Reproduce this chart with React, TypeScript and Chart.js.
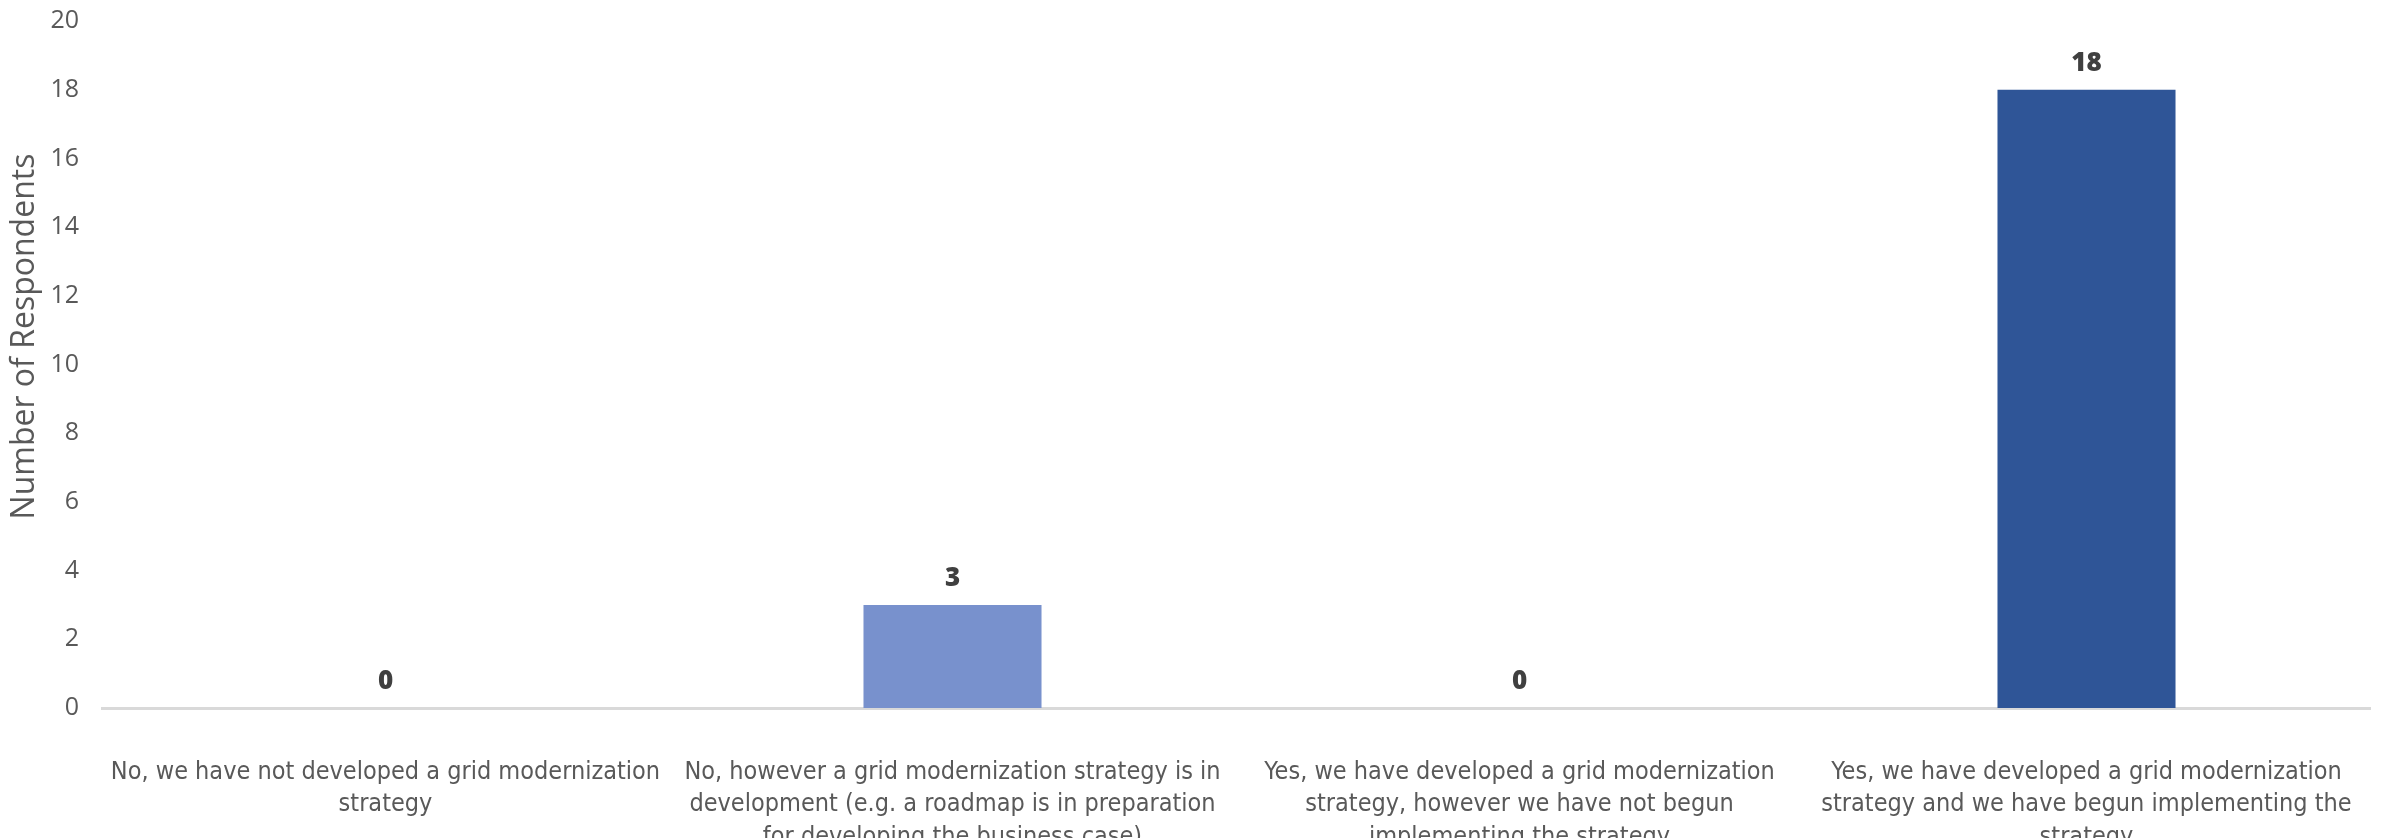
import React, { useEffect, useRef } from "react";
import { Chart, registerables } from "chart.js";

Chart.register(...registerables);

const categories: string[][] = [
  ["No, we have not developed a grid modernization", "strategy"],
  ["No, however a grid modernization strategy is in", "development (e.g. a roadmap is in preparation", "for developing the business case)"],
  ["Yes, we have developed a grid modernization", "strategy, however we have not begun", "implementing the strategy"],
  ["Yes, we have developed a grid modernization", "strategy and we have begun implementing the", "strategy"],
];
const respondents: number[] = [0, 3, 0, 18];
const barColors: string[] = ["#7891cd", "#7891cd", "#2f5597", "#2f5597"];
const yTicks: number[] = [0, 2, 4, 6, 8, 10, 12, 14, 16, 18, 20];
const yTitle = "Number of Respondents";

const valueLabels = {
  id: "valueLabels",
  afterDatasetsDraw(chart: any) {
    const ctx = chart.ctx;
    const meta = chart.getDatasetMeta(0);
    ctx.save();
    ctx.font = "800 26px 'Open Sans', sans-serif";
    ctx.fillStyle = "#404040";
    ctx.textAlign = "center";
    ctx.textBaseline = "middle";
    meta.data.forEach((bar: any, i: number) => {
      ctx.fillText(String(respondents[i]), bar.x, bar.y - 26);
    });
    ctx.restore();
  },
};

const yAxisTitle = {
  id: "yAxisTitle",
  afterDraw(chart: any) {
    const ctx = chart.ctx;
    const area = chart.chartArea;
    ctx.save();
    ctx.translate(25, (area.top + area.bottom) / 2 - 28);
    ctx.rotate(-Math.PI / 2);
    ctx.font = "32px 'Open Sans', sans-serif";
    ctx.fillStyle = "#595959";
    ctx.textAlign = "center";
    ctx.textBaseline = "middle";
    ctx.fillText(yTitle, 0, 0);
    ctx.restore();
  },
};

export default function App() {
  const ref = useRef<HTMLCanvasElement | null>(null);
  useEffect(() => {
    document.body.style.margin = "0";
    document.body.style.overflow = "hidden";
    const chart = new Chart(ref.current as HTMLCanvasElement, {
      type: "bar",
      data: {
        labels: categories,
        datasets: [
          {
            data: respondents,
            backgroundColor: barColors,
            categoryPercentage: 1,
            barPercentage: 0.314,
          },
        ],
      },
      options: {
        animation: false,
        responsive: true,
        maintainAspectRatio: false,
        layout: { padding: { top: 21, right: 17, left: 6, bottom: 0 } },
        plugins: { legend: { display: false }, tooltip: { enabled: false } },
        scales: {
          x: {
            grid: { display: false },
            border: { display: true, color: "#d9d9d9", width: 3 },
            afterFit: (s: any) => {
              s.paddingLeft = 0;
              s.paddingRight = 0;
              s.height = 180;
            },
            ticks: {
              color: "#595959",
              padding: 40,
              maxRotation: 0,
              autoSkip: false,
              font: { family: "'Liberation Sans Narrow', 'DejaVu Sans Condensed', sans-serif", size: 25, lineHeight: 1.3 },
            },
          },
          y: {
            min: 0,
            max: 20,
            afterBuildTicks: (axis: any) => {
              axis.ticks = yTicks.map((v) => ({ value: v }));
            },
            afterFit: (s: any) => {
              s.width = 96;
              s.paddingTop = 0;
              s.paddingBottom = 0;
            },
            grid: { display: false },
            border: { display: false },
            ticks: {
              color: "#595959",
              padding: 15,
              font: { family: "'Open Sans', sans-serif", size: 25 },
            },
          },
        },
      },
      plugins: [valueLabels, yAxisTitle],
    });
    return () => chart.destroy();
  }, []);
  return (
    <div style={{ width: 2387, height: 838, overflow: "hidden" }}>
      <div style={{ width: 2387, height: 888, position: "relative" }}>
        <canvas ref={ref} />
      </div>
    </div>
  );
}
